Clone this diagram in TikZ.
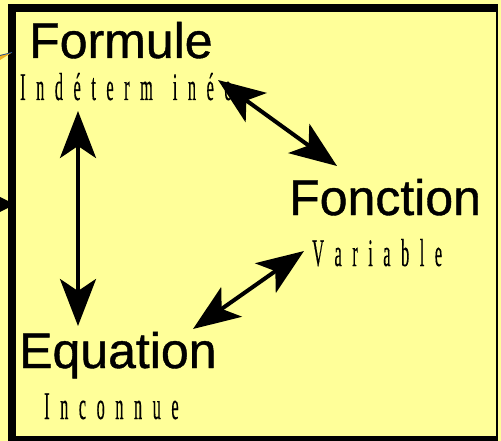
\documentclass[tikz,border=0pt]{standalone}
\usepackage{fontspec}
\usetikzlibrary{arrows.meta}
\newfontfamily\labsans[FakeBold=0.8]{Liberation Sans}
\newfontfamily\narrowserif[FakeStretch=0.42,FakeBold=0.3]{Liberation Serif}
\newcommand\subfontsel{\narrowserif\fontsize{39}{39}\selectfont\spaceskip 10.5pt\relax}
\newcommand\titlefontsel{\labsans\fontsize{50}{50}\selectfont}
\definecolor{bgyellow}{HTML}{FFFF99}
\definecolor{tipblue}{HTML}{1F4E9A}
\definecolor{tiporange}{HTML}{F0B020}
\begin{document}
\begin{tikzpicture}[x=1pt,y=-1pt,
  title/.style={inner sep=0pt,anchor=base west,font=\titlefontsel},
  sub/.style={inner sep=0pt,anchor=base west,font=\subfontsel},
  dbl/.style={line width=4pt,{Stealth[length=47pt,width=36pt,inset=12pt]}-{Stealth[length=47pt,width=36pt,inset=12pt]}}]
\useasboundingbox (0,0) rectangle (501,441);
\fill[bgyellow] (0,0) rectangle (501,441);
% frame
\fill[black] (8,4) rectangle (497,12);
\fill[black] (8,4) rectangle (16,441);
\fill[black] (496,4) rectangle (498,441);
\fill[black] (8,436) rectangle (498,441);
% cut-off arrow tips entering from the left
\fill[tiporange] (0,55) -- (12,52.5) -- (0,60) -- cycle;
\draw[tipblue,line width=0.8pt] (0,55.5) -- (12,52.5);
\fill[black] (-2,196) -- (15,204.5) -- (-2,213) -- cycle;
% texts
\node[title] (formule) at (29,58) {Formule};
\node[sub] (indet) at (20,100) {I n d é t e r m\hspace{20pt}i n é e};
\node[title] (fonction) at (289,215) {Fonction};
\node[sub] (variable) at (312,266) {V a r i a b l e};
\node[title] (equation) at (19,368) {Equation};
\node[sub] (inconnue) at (44,419) {I n c o n n u e};
% arrow end points
\coordinate (fTop) at (78,111);
\coordinate (eTop) at (78,326);
\coordinate (fRight) at (218,80);
\coordinate (fnTop) at (337,166);
\coordinate (fnLeft) at (304,251);
\coordinate (eRight) at (193,329);
\draw[dbl] (fTop) -- (eTop);
\draw[dbl] (fRight) -- (fnTop);
\draw[dbl] (fnLeft) -- (eRight);
\end{tikzpicture}
\end{document}
